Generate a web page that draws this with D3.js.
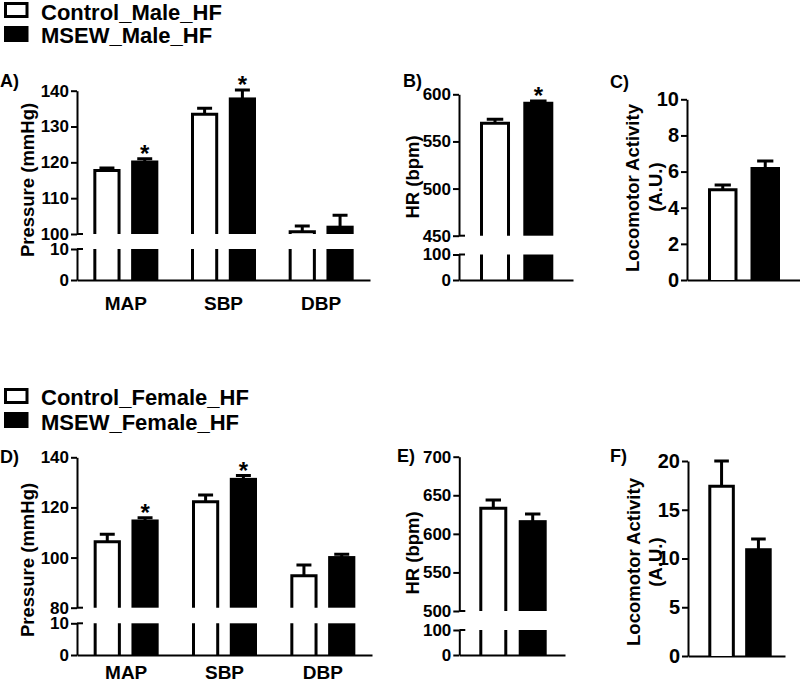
<!DOCTYPE html>
<html>
<head>
<meta charset="utf-8">
<script src="https://cdn.jsdelivr.net/npm/d3@7"></script>
<style>
  html, body { margin: 0; padding: 0; background: #fff; }
  svg { display: block; }
</style>
</head>
<body>
<script>
// ---------------- DATA ----------------
const pressureCategories = ["MAP", "SBP", "DBP"];
const maleGroups = ["Control_Male_HF", "MSEW_Male_HF"];
const femaleGroups = ["Control_Female_HF", "MSEW_Female_HF"];

// Male (top row)
const malePressureControl = [117.7, 133.4, 100.6];
const malePressureControlSEM = [0.7, 1.7, 1.6];
const malePressureMSEW = [120.1, 137.7, 101.9];
const malePressureMSEWSEM = [0.9, 2.5, 3.3];
const malePressureSig = [true, true, false];

const maleHR = [569.3, 590.5];
const maleHRSEM = [4.2, 2.4];
const maleHRSig = [false, true];

const maleLoco = [5.0, 6.17];
const maleLocoSEM = [0.26, 0.42];
const maleLocoSig = [false, false];

// Female (bottom row)
const femalePressureControl = [106.3, 122.3, 92.7];
const femalePressureControlSEM = [3.0, 2.7, 4.3];
const femalePressureMSEW = [114.6, 131.2, 100.0];
const femalePressureMSEWSEM = [1.3, 1.5, 1.3];
const femalePressureSig = [true, true, false];

const femaleHR = [633.2, 615.8];
const femaleHRSEM = [10.7, 10.0];
const femaleHRSig = [false, false];

const femaleLoco = [17.4, 10.9];
const femaleLocoSEM = [2.6, 1.1];
const femaleLocoSig = [false, false];

// Tick labels
const ticksA_high = [100, 110, 120, 130, 140], ticksA_low = [0, 10];
const ticksB_high = [450, 500, 550, 600], ticksB_low = [0, 100];
const ticksC = [0, 2, 4, 6, 8, 10];
const ticksD_high = [80, 100, 120, 140], ticksD_low = [0, 10];
const ticksE_high = [500, 550, 600, 650, 700], ticksE_low = [0, 100];
const ticksF = [0, 5, 10, 15, 20];

// ---------------- DRAWING ----------------
const FONT = "'Liberation Sans', Arial, Helvetica, sans-serif";
const svg = d3.select("body").append("svg").attr("width", 800).attr("height", 682)
  .style("font-family", FONT).style("font-weight", "bold");

function styleAxis(sel, fs) {
  sel.select(".domain").attr("stroke", "#000").attr("stroke-width", 2);
  sel.selectAll(".tick line").attr("stroke", "#000").attr("stroke-width", 2);
  sel.selectAll(".tick text").attr("fill", "#000")
    .style("font-family", FONT).style("font-weight", "bold").style("font-size", fs + "px");
}

function drawPanel(o) {
  const g = svg.append("g");
  let yLow = null, yHigh;
  if (o.broken) {
    yLow = d3.scaleLinear().domain([o.lowTicks[0], o.lowTicks[o.lowTicks.length - 1]]).range([o.y0, o.yLowTop]);
    yHigh = d3.scaleLinear().domain([o.highTicks[0], o.highTicks[o.highTicks.length - 1]]).range([o.yHighBottom, o.yTop]);
  } else {
    yHigh = d3.scaleLinear().domain([o.highTicks[0], o.highTicks[o.highTicks.length - 1]]).range([o.y0, o.yTop]);
  }
  const highMin = yHigh.domain()[0];

  // build bars
  const bars = [];
  if (o.grouped) {
    const xOuter = d3.scaleBand().domain(o.categories).range([o.axisX, o.xEnd]);
    const xInner = d3.scaleBand().domain(o.groups).range([-32.5, 32.5]).paddingInner(0.28);
    o.categories.forEach((c, i) => {
      o.groups.forEach((grp, j) => {
        bars.push({
          cx: xOuter(c) + xOuter.bandwidth() / 2 + xInner(grp) + xInner.bandwidth() / 2,
          w: xInner.bandwidth(), v: o.values[j][i], e: o.sems[j][i],
          black: j === 1, sig: j === 1 && o.sig[i]
        });
      });
    });
    const xa = g.append("g").attr("transform", `translate(0,${o.y0})`)
      .call(d3.axisBottom(xOuter).tickSize(0).tickSizeOuter(0).tickPadding(o.catPad));
    styleAxis(xa, 19);
  } else {
    const x = d3.scaleBand().domain(o.groups).range(o.barRange).paddingInner(o.pad);
    o.groups.forEach((grp, j) => {
      bars.push({
        cx: x(grp) + x.bandwidth() / 2, w: x.bandwidth(), v: o.values[j], e: o.sems[j],
        black: j === 1, sig: o.sig[j]
      });
    });
    const xs = d3.scaleBand().domain(o.groups).range([o.axisX, o.xEnd]);
    const xa = g.append("g").attr("transform", `translate(0,${o.y0})`)
      .call(d3.axisBottom(xs).tickValues([]).tickSize(0).tickSizeOuter(0));
    styleAxis(xa, 16);
  }

  // bars
  bars.forEach(b => {
    const L = b.cx - b.w / 2, R = b.cx + b.w / 2;
    const l = L + 1.5, r = R - 1.5;
    const yv = yHigh(b.v);
    const base = o.broken ? o.yHighBottom : o.y0;
    if (b.black) {
      g.append("rect").attr("x", L).attr("y", yv - 1.5).attr("width", R - L).attr("height", base - yv + 1.5).attr("fill", "#000");
      if (o.broken) {
        g.append("rect").attr("x", L).attr("y", yLow(yLow.domain()[1])).attr("width", R - L)
          .attr("height", o.y0 - yLow(yLow.domain()[1])).attr("fill", "#000");
      }
    } else {
      g.append("path").attr("d", `M${l},${base}V${yv}H${r}V${base}`)
        .attr("fill", "#fff").attr("stroke", "#000").attr("stroke-width", 3);
      if (o.broken) {
        const yt = yLow(yLow.domain()[1]);
        g.append("path").attr("d", `M${l},${o.y0}V${yt}M${r},${o.y0}V${yt}`)
          .attr("fill", "none").attr("stroke", "#000").attr("stroke-width", 3);
      }
    }
    // error bar (upper only)
    const ye = yHigh(b.v + b.e);
    const cw = b.w * 0.55;
    g.append("path").attr("d", `M${b.cx},${yv}V${ye}M${b.cx - cw / 2},${ye}H${b.cx + cw / 2}`)
      .attr("fill", "none").attr("stroke", "#000").attr("stroke-width", 3);
    if (b.sig) {
      g.append("text").attr("x", b.cx).attr("y", ye + 3).attr("text-anchor", "middle")
        .style("font-size", "24px").text("*");
    }
  });

  // y axes
  const ya = g.append("g").attr("transform", `translate(${o.axisX},0)`)
    .call(d3.axisLeft(yHigh).tickValues(o.highTicks).tickSize(6).tickSizeOuter(0).tickPadding(2));
  styleAxis(ya, o.tickFont);
  if (o.broken) {
    const yb = g.append("g").attr("transform", `translate(${o.axisX},0)`)
      .call(d3.axisLeft(yLow).tickValues(o.lowTicks).tickSize(6).tickSizeOuter(0).tickPadding(2));
    styleAxis(yb, o.tickFont);
    const stubs = [yHigh(highMin), yLow(yLow.domain()[1])];
    stubs.forEach(yy => {
      g.append("line").attr("x1", o.axisX).attr("x2", o.axisX + 6).attr("y1", yy).attr("y2", yy)
        .attr("stroke", "#000").attr("stroke-width", 2);
    });
  }

  // y labels
  o.yLabels.forEach(t => {
    g.append("text").attr("transform", `translate(${t.x},${t.y}) rotate(-90)`)
      .attr("text-anchor", "middle").attr("dominant-baseline", "central")
      .style("font-size", "18.5px").text(t.text);
  });
  // panel letter
  g.append("text").attr("x", o.letter.x).attr("y", o.letter.y).style("font-size", "18px").text(o.letter.text);
}

// Legends
function legend(groups, yTop, base1, base2) {
  const g = svg.append("g");
  g.append("rect").attr("x", 5.5).attr("y", yTop + 1.5).attr("width", 21.5).attr("height", 13)
    .attr("fill", "#fff").attr("stroke", "#000").attr("stroke-width", 3);
  g.append("rect").attr("x", 4).attr("y", yTop + 24).attr("width", 24.5).attr("height", 16).attr("fill", "#000");
  g.append("text").attr("x", 41).attr("y", base1).style("font-size", "22px").text(groups[0]);
  g.append("text").attr("x", 41).attr("y", base2).style("font-size", "22px").text(groups[1]);
}
legend(maleGroups, 2, 20, 43);
legend(femaleGroups, 388, 405, 430);

// Panel A
drawPanel({
  grouped: true, broken: true, categories: pressureCategories, groups: maleGroups,
  values: [malePressureControl, malePressureMSEW], sems: [malePressureControlSEM, malePressureMSEWSEM], sig: malePressureSig,
  axisX: 77, xEnd: 370, y0: 280, yLowTop: 249, yHighBottom: 234, yTop: 90.7, catPad: 17,
  highTicks: ticksA_high, lowTicks: ticksA_low, tickFont: 17,
  yLabels: [{ x: 27, y: 180, text: "Pressure (mmHg)" }],
  letter: { x: 0, y: 87, text: "A)" }
});
// Panel B
drawPanel({
  grouped: false, broken: true, groups: maleGroups, values: maleHR, sems: maleHRSEM, sig: maleHRSig,
  barRange: [480, 553.3], pad: 0.307,
  axisX: 459, xEnd: 573, y0: 280, yLowTop: 254.5, yHighBottom: 235.7, yTop: 94.3,
  highTicks: ticksB_high, lowTicks: ticksB_low, tickFont: 17,
  yLabels: [{ x: 412, y: 177, text: "HR (bpm)" }],
  letter: { x: 403, y: 87, text: "B)" }
});
// Panel C
drawPanel({
  grouped: false, broken: false, groups: maleGroups, values: maleLoco, sems: maleLocoSEM, sig: maleLocoSig,
  barRange: [708, 780], pad: 0.306,
  axisX: 687, xEnd: 800, y0: 280, yTop: 99.3,
  highTicks: ticksC, tickFont: 20,
  yLabels: [{ x: 632, y: 188, text: "Locomotor Activity" }, { x: 655, y: 187, text: "(A.U.)" }],
  letter: { x: 610, y: 88, text: "C)" }
});
// Panel D
drawPanel({
  grouped: true, broken: true, categories: pressureCategories, groups: femaleGroups,
  values: [femalePressureControl, femalePressureMSEW], sems: [femalePressureControlSEM, femalePressureMSEWSEM], sig: femalePressureSig,
  axisX: 77, xEnd: 372, y0: 655, yLowTop: 623.3, yHighBottom: 607.7, yTop: 457.3, catPad: 11,
  highTicks: ticksD_high, lowTicks: ticksD_low, tickFont: 17,
  yLabels: [{ x: 27, y: 560, text: "Pressure (mmHg)" }],
  letter: { x: 0, y: 463, text: "D)" }
});
// Panel E
drawPanel({
  grouped: false, broken: true, groups: femaleGroups, values: femaleHR, sems: femaleHRSEM, sig: femaleHRSig,
  barRange: [479.3, 546.7], pad: 0.29,
  axisX: 459.3, xEnd: 565, y0: 655, yLowTop: 630, yHighBottom: 611, yTop: 456.7,
  highTicks: ticksE_high, lowTicks: ticksE_low, tickFont: 17,
  yLabels: [{ x: 412, y: 553, text: "HR (bpm)" }],
  letter: { x: 397, y: 462, text: "E)" }
});
// Panel F
drawPanel({
  grouped: false, broken: false, groups: femaleGroups, values: femaleLoco, sems: femaleLocoSEM, sig: femaleLocoSig,
  barRange: [708.3, 771.7], pad: 0.28,
  axisX: 688, xEnd: 785, y0: 656, yTop: 461,
  highTicks: ticksF, tickFont: 20,
  yLabels: [{ x: 633, y: 562, text: "Locomotor Activity" }, { x: 655, y: 562, text: "(A.U.)" }],
  letter: { x: 610, y: 462, text: "F)" }
});
</script>
</body>
</html>
